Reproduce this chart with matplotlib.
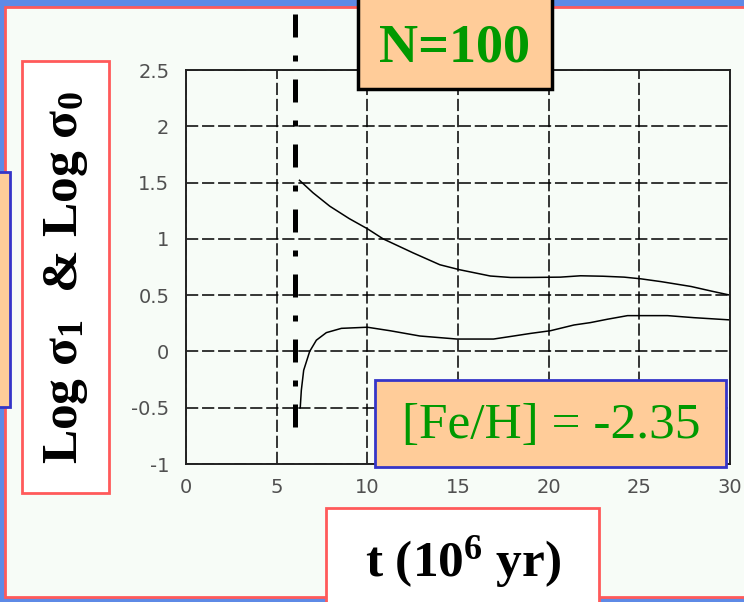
import matplotlib
matplotlib.use("Agg")
import matplotlib.pyplot as plt
from matplotlib.patches import Rectangle

# ---------------- data ----------------
upper_t = [6.26, 7.0, 7.93, 9.0, 10.0, 10.87, 12.53, 14.0, 15.08, 16.78, 17.9, 19.0,
           20.65, 21.76, 23.0, 24.16, 25.08, 26.2, 27.85, 29.0, 30.0]
upper_v = [1.52, 1.41, 1.29, 1.18, 1.09, 1.0, 0.875, 0.77, 0.726, 0.67, 0.657, 0.657,
           0.66, 0.672, 0.668, 0.66, 0.645, 0.62, 0.577, 0.535, 0.50]

lower_t = [6.30, 6.36, 6.49, 6.82, 7.19, 7.74, 8.57, 10.0, 11.25, 12.9, 14.94, 16.96,
           18.07, 19.0, 20.1, 21.4, 22.3, 23.24, 24.35, 26.56, 28.0, 30.0]
lower_v = [-0.50, -0.345, -0.167, 0.0, 0.10, 0.167, 0.205, 0.215, 0.184, 0.137, 0.11, 0.11,
           0.137, 0.16, 0.184, 0.235, 0.256, 0.286, 0.318, 0.318, 0.30, 0.28]

vline_t = 6.0
vline_span = [3.0, -0.69]

x_ticks = [0, 5, 10, 15, 20, 25, 30]
x_labels = ["0", "5", "10", "15", "20", "25", "30"]
y_ticks = [-1, -0.5, 0, 0.5, 1, 1.5, 2, 2.5]
y_labels = ["-1", "-0.5", "0", "0.5", "1", "1.5", "2", "2.5"]

title_text = "N=100"
feh_text = "[Fe/H] = -2.35"
xlabel_text = r"t (10$^{6}$ yr)"
ylabel_text = r"Log σ$_1$  & Log σ$_0$"

# ---------------- style ----------------
plt.rcParams['mathtext.fontset'] = 'custom'
plt.rcParams['mathtext.rm'] = 'Liberation Serif:bold'
plt.rcParams['mathtext.it'] = 'Liberation Serif:bold'
plt.rcParams['mathtext.bf'] = 'Liberation Serif:bold'

W, H = 744, 602
BLUE_BG = '#5E8AE6'
PANEL = '#F7FCF7'
RED = '#FF5A5A'
ORANGE = '#FFCC99'
BOXBLUE = '#3535C8'
GREEN = '#009900'

fig = plt.figure(figsize=(W / 100, H / 100), dpi=100)
fig.patch.set_facecolor(BLUE_BG)


def rect(x0, y0, x1, y1, fc, ec, lw, z):
    r = Rectangle((x0 / W, 1 - y1 / H), (x1 - x0) / W, (y1 - y0) / H,
                  transform=fig.transFigure, facecolor=fc, edgecolor=ec,
                  linewidth=lw, zorder=z, clip_on=False)
    fig.add_artist(r)


# panel
rect(5, 7, 760, 597, PANEL, RED, 2.0, -5)

# axes
ax = fig.add_axes([186 / W, 1 - 464 / H, (730 - 186) / W, (464 - 70) / H])
ax.set_facecolor(PANEL)
ax.set_zorder(0)
ax.plot(upper_t, upper_v, color='black', lw=1.1)
ax.plot(lower_t, lower_v, color='black', lw=1.1)
ax.plot([vline_t, vline_t], vline_span, color='black', lw=3.6,
        dashes=(4.6, 3.6, 1.2, 3.6), solid_capstyle='butt',
        dash_capstyle='butt', clip_on=False)
ax.set_xlim(0, 30)
ax.set_ylim(-1, 2.5)
ax.set_xticks(x_ticks)
ax.set_xticklabels(x_labels)
ax.set_yticks(y_ticks)
ax.set_yticklabels(y_labels)
ax.tick_params(length=0, labelsize=14, labelcolor='#505050')
ax.tick_params(axis='x', pad=10)
ax.tick_params(axis='y', pad=12)
ax.grid(True, color='black', lw=1.1, linestyle=(0, (8, 2.5)))
for s in ax.spines.values():
    s.set_color('#222222')
    s.set_linewidth(1.4)

# left orange box (clipped)
rect(-10, 172, 10, 407, ORANGE, BOXBLUE, 2.0, 2)
# y label box
rect(22, 61, 109, 493, 'white', RED, 2.0, 2)
fig.text(66 / W, 1 - 278 / H, ylabel_text, rotation=90, ha='center', va='center',
         fontsize=37, fontweight='bold', family='Liberation Serif', color='black', zorder=3)

# N=100 box
rect(358, -10, 552, 89, ORANGE, 'black', 2.5, 2)
fig.text(455 / W, 1 - 48 / H, title_text, ha='center', va='center',
         fontsize=39, fontweight='bold', family='Liberation Serif', color=GREEN, zorder=3)

# [Fe/H] box
rect(375, 380, 726, 467, ORANGE, BOXBLUE, 2.0, 2)
fig.text(551 / W, 1 - 426 / H, feh_text, ha='center', va='center',
         fontsize=37, family='Liberation Serif', color=GREEN, zorder=3)

# t box
rect(326, 508, 599, 620, 'white', RED, 2.0, 2)
fig.text(463 / W, 1 - 562 / H, xlabel_text, ha='center', va='center',
         fontsize=37, fontweight='bold', family='Liberation Serif', color='black', zorder=3)

fig.savefig('out.png', dpi=100, facecolor=fig.get_facecolor())
